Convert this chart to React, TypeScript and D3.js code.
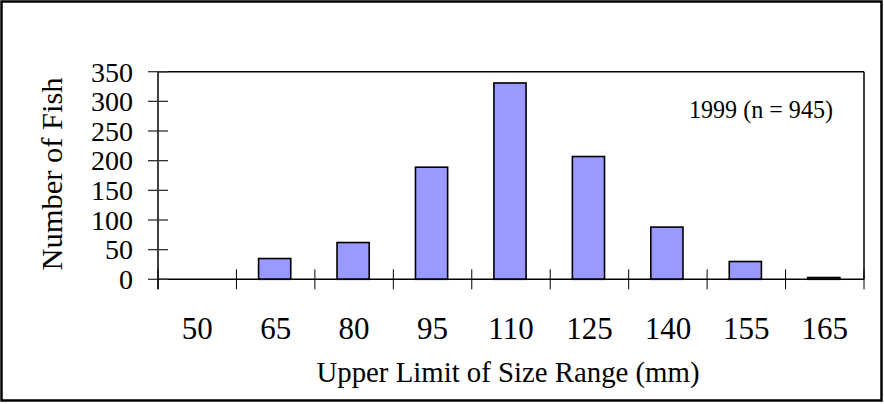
import * as d3 from 'd3';

const categories = ['50', '65', '80', '95', '110', '125', '140', '155', '165'];
const fishCounts = [0, 35, 62, 189, 331, 207, 88, 30, 3];
const yTicks = [0, 50, 100, 150, 200, 250, 300, 350];
const note = '1999 (n = 945)';

const W = 884;
const H = 404;
const plot = { left: 158, right: 864, top: 71.7, bottom: 279.3 };
const font = 'Liberation Serif, Times New Roman, serif';

export default function App() {
  const x = d3
    .scaleBand<string>()
    .domain(categories)
    .range([plot.left, plot.right])
    .padding(0);

  const y = d3 //
    .scaleLinear()
    .domain([0, 350])
    .range([plot.bottom, plot.top]);

  const barW = x.bandwidth() * 0.41;
  const boundaries = categories.map((c) => x(c) as number).concat(plot.right);

  return (
    <div style={{ position: 'absolute', left: 0, top: 0 }}>
      <svg width={W} height={H} fontFamily={font} style={{ display: 'block' }}>
        <rect x={0} y={0} width={W} height={H} fill="#fff" />
        <rect x={1.5} y={1.5} width={880} height={399} fill="none" stroke="#000" strokeWidth={2.5} />

        {/* bars */}
        {fishCounts.map((v, i) => {
          const c = categories[i];
          if (v <= 0) return null;
          const cx = (x(c) as number) + x.bandwidth() / 2 - 1;
          return (
            <rect
              key={c}
              x={cx - barW / 2}
              y={y(v)}
              width={barW}
              height={plot.bottom - y(v)}
              fill="#9999ff"
              stroke="#000"
              strokeWidth={1.6}
            />
          );
        })}

        {/* frame */}
        <line x1={plot.left} x2={plot.right} y1={plot.top} y2={plot.top} stroke="#000" strokeWidth={1.5} />
        <line x1={plot.right} x2={plot.right} y1={plot.top} y2={plot.bottom} stroke="#000" strokeWidth={1.5} />
        <line x1={plot.left} x2={plot.left} y1={plot.top} y2={plot.bottom + 10} stroke="#000" strokeWidth={1.5} />
        <line x1={plot.left} x2={plot.right} y1={plot.bottom} y2={plot.bottom} stroke="#000" strokeWidth={1.5} />

        {/* y ticks */}
        {yTicks.map((t) => (
          <g key={t}>
            <line x1={plot.left - 10} x2={plot.left + 10} y1={y(t)} y2={y(t)} stroke="#333" strokeWidth={1.3} />
            <text x={133} y={y(t)} dy="0.35em" textAnchor="end" fontSize={28}>
              {t}
            </text>
          </g>
        ))}

        {/* x ticks at category boundaries */}
        {boundaries.map((b, i) => (
          <line key={i} x1={b} x2={b} y1={plot.bottom - 10} y2={plot.bottom + 10} stroke="#000" strokeWidth={1} />
        ))}
        {categories.map((c) => (
          <text
            key={c}
            x={(x(c) as number) + x.bandwidth() / 2}
            y={339}
            textAnchor="middle"
            fontSize={31}
          >
            {c}
          </text>
        ))}

        <text x={508} y={382} textAnchor="middle" fontSize={29} textLength={383} lengthAdjust="spacingAndGlyphs">
          Upper Limit of Size Range (mm)
        </text>
        <text
          transform="translate(62,174) rotate(-90)"
          textAnchor="middle"
          fontSize={29}
          textLength={193}
          lengthAdjust="spacingAndGlyphs"
        >
          Number of Fish
        </text>
        <text x={689} y={118} fontSize={25} textLength={144} lengthAdjust="spacingAndGlyphs">
          {note}
        </text>
      </svg>
    </div>
  );
}
